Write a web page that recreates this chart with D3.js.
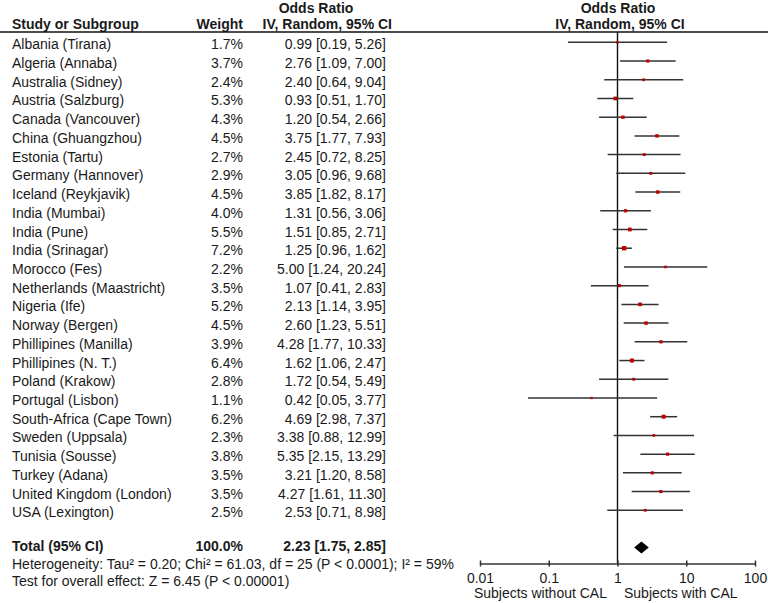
<!DOCTYPE html>
<html>
<head>
<meta charset="utf-8">
<script src="https://cdn.jsdelivr.net/npm/d3@7"></script>
<style>
  html, body { margin: 0; padding: 0; background: #fff; }
  svg { display: block; font-family: "Liberation Sans", Arial, sans-serif; }
  text { fill: #1a1a1a; font-size: 14px; }
</style>
</head>
<body>
<svg id="chart" width="768" height="603"></svg>
<script>
const studies = ["Albania (Tirana)","Algeria (Annaba)","Australia (Sidney)","Austria (Salzburg)","Canada (Vancouver)","China (Ghuangzhou)","Estonia (Tartu)","Germany (Hannover)","Iceland (Reykjavik)","India (Mumbai)","India (Pune)","India (Srinagar)","Morocco (Fes)","Netherlands (Maastricht)","Nigeria (Ife)","Norway (Bergen)","Phillipines (Manilla)","Phillipines (N. T.)","Poland (Krakow)","Portugal (Lisbon)","South-Africa (Cape Town)","Sweden (Uppsala)","Tunisia (Sousse)","Turkey (Adana)","United Kingdom (London)","USA (Lexington)"];
const weights = [1.7,3.7,2.4,5.3,4.3,4.5,2.7,2.9,4.5,4.0,5.5,7.2,2.2,3.5,5.2,4.5,3.9,6.4,2.8,1.1,6.2,2.3,3.8,3.5,3.5,2.5];
const oddsRatio = [0.99,2.76,2.40,0.93,1.20,3.75,2.45,3.05,3.85,1.31,1.51,1.25,5.00,1.07,2.13,2.60,4.28,1.62,1.72,0.42,4.69,3.38,5.35,3.21,4.27,2.53];
const ciLow = [0.19,1.09,0.64,0.51,0.54,1.77,0.72,0.96,1.82,0.56,0.85,0.96,1.24,0.41,1.14,1.23,1.77,1.06,0.54,0.05,2.98,0.88,2.15,1.20,1.61,0.71];
const ciHigh = [5.26,7.00,9.04,1.70,2.66,7.93,8.25,9.68,8.17,3.06,2.71,1.62,20.24,2.83,3.95,5.51,10.33,2.47,5.49,3.77,7.37,12.99,13.29,8.58,11.30,8.98];
const total = {label: "Total (95% CI)", weight: 100.0, or: 2.23, lo: 1.75, hi: 2.85};
const tickValues = [0.01, 0.1, 1, 10, 100];
const tickLabels = ["0.01", "0.1", "1", "10", "100"];
const heterogeneityText = "Heterogeneity: Tau² = 0.20; Chi² = 61.03, df = 25 (P < 0.0001); I² = 59%";
const overallText = "Test for overall effect: Z = 6.45 (P < 0.00001)";
const leftLabel = "Subjects without CAL";
const rightLabel = "Subjects with CAL";

const svg = d3.select("#chart");
const x = d3.scaleLog().domain([0.01, 100]).range([480, 755]);
const y = d3.scalePoint().domain(studies).range([42.3, 510.3]);
const sq = d3.scaleLinear().domain([0, 8]).range([1.9, 4.6]);
const fmt2 = d => d.toFixed(2);
const fmtW = d => d.toFixed(1) + "%";
const ciText = i => `${fmt2(oddsRatio[i])} [${fmt2(ciLow[i])}, ${fmt2(ciHigh[i])}]`;

// headers
const hdr = svg.append("g").style("font-weight", "bold");
hdr.append("text").attr("x", 316).attr("y", 12.5).attr("text-anchor", "middle").text("Odds Ratio");
hdr.append("text").attr("x", 392).attr("y", 29).attr("text-anchor", "end").text("IV, Random, 95% CI");
hdr.append("text").attr("x", 12).attr("y", 29).text("Study or Subgroup");
hdr.append("text").attr("x", 243).attr("y", 29).attr("text-anchor", "end").text("Weight");
hdr.append("text").attr("x", 618).attr("y", 12.5).attr("text-anchor", "middle").text("Odds Ratio");
hdr.append("text").attr("x", 620).attr("y", 29).attr("text-anchor", "middle").text("IV, Random, 95% CI");

svg.append("line").attr("x1", 0).attr("x2", 768).attr("y1", 32).attr("y2", 32)
  .attr("stroke", "#111").attr("stroke-width", 1.5);

// rows text
const idx = d3.range(studies.length);
const rows = svg.append("g");
rows.selectAll("text.name").data(idx).join("text").attr("class", "name")
  .attr("x", 12).attr("y", i => y(studies[i]) + 7).text(i => studies[i]);
rows.selectAll("text.w").data(idx).join("text").attr("class", "w")
  .attr("x", 243).attr("y", i => y(studies[i]) + 7).attr("text-anchor", "end").text(i => fmtW(weights[i]));
rows.selectAll("text.ci").data(idx).join("text").attr("class", "ci")
  .attr("x", 386).attr("y", i => y(studies[i]) + 7).attr("text-anchor", "end").text(i => ciText(i));

// total row
const tg = svg.append("g").style("font-weight", "bold");
tg.append("text").attr("x", 12).attr("y", 551).text(total.label);
tg.append("text").attr("x", 243).attr("y", 551).attr("text-anchor", "end").text(fmtW(total.weight));
tg.append("text").attr("x", 386).attr("y", 551).attr("text-anchor", "end")
  .text(`${fmt2(total.or)} [${fmt2(total.lo)}, ${fmt2(total.hi)}]`);
svg.append("text").attr("x", 12).attr("y", 568.5).text(heterogeneityText);
svg.append("text").attr("x", 12).attr("y", 586).text(overallText);

// vertical line of no effect
svg.append("line").attr("x1", x(1)).attr("x2", x(1)).attr("y1", 32).attr("y2", 563.5)
  .attr("stroke", "#111").attr("stroke-width", 1.4);

// CI lines
svg.append("g").selectAll("line").data(idx).join("line")
  .attr("x1", i => x(ciLow[i])).attr("x2", i => x(ciHigh[i]))
  .attr("y1", i => y(studies[i])).attr("y2", i => y(studies[i]))
  .attr("stroke", "#333").attr("stroke-width", 1.5);

// squares
svg.append("g").selectAll("rect").data(idx).join("rect")
  .attr("x", i => x(oddsRatio[i]) - sq(weights[i]) / 2)
  .attr("y", i => y(studies[i]) - sq(weights[i]) / 2)
  .attr("width", i => sq(weights[i])).attr("height", i => sq(weights[i]))
  .attr("fill", "#c00000");

// diamond
const dy = 547.5;
svg.append("path")
  .attr("d", `M${x(total.lo)},${dy} L${x(total.or)},${dy - 6} L${x(total.hi)},${dy} L${x(total.or)},${dy + 6} Z`)
  .attr("fill", "#000");

// axis
const axisG = svg.append("g").attr("transform", "translate(0,563.5)")
  .call(d3.axisBottom(x).tickValues(tickValues).tickFormat((d, i) => tickLabels[i])
    .tickSizeInner(3).tickSizeOuter(0).tickPadding(7));
axisG.select(".domain").attr("stroke", "#333").attr("stroke-width", 1.5);
axisG.selectAll(".tick line").attr("y1", -3).attr("stroke", "#333").attr("stroke-width", 1.5);
axisG.selectAll(".tick text").attr("fill", "#1a1a1a").style("font-size", "14px")
  .style("font-family", "'Liberation Sans', Arial, sans-serif");

svg.append("text").attr("x", 607).attr("y", 598).attr("text-anchor", "end").text(leftLabel);
svg.append("text").attr("x", 624).attr("y", 598).text(rightLabel);
</script>
</body>
</html>
